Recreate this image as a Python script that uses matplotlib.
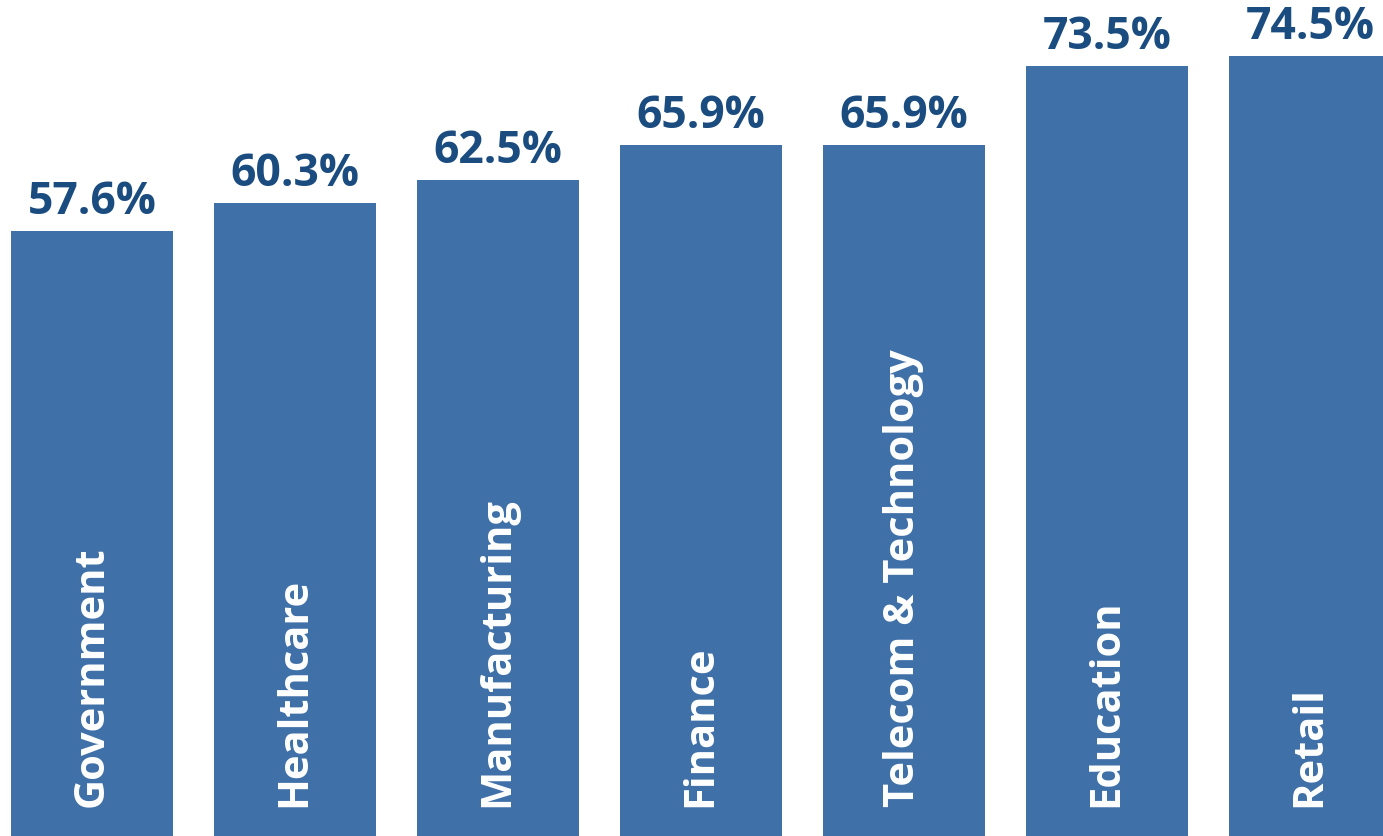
import numpy as np
import matplotlib.pyplot as plt

# Sector data
sectors = ["Government", "Healthcare", "Manufacturing", "Finance",
           "Telecom & Technology", "Education", "Retail"]
values = [57.6, 60.3, 62.5, 65.9, 65.9, 73.5, 74.5]
labels = ["57.6%", "60.3%", "62.5%", "65.9%", "65.9%", "73.5%", "74.5%"]

bar_color = "#4070a8"
text_color = "#1a4c80"

fig = plt.figure(figsize=(13.83, 8.36), dpi=100)
ax = fig.add_axes([0, 0, 1, 1])

x = np.arange(len(sectors))
base = -0.8
ax.bar(x, np.array(values) - base, bottom=base, width=0.8, color=bar_color)

for xi, v, lab, name in zip(x, values, labels, sectors):
    ax.text(xi, v + 0.6, lab, ha="center", va="bottom", fontsize=32,
            fontweight="bold", color=text_color, family="Open Sans")
    ax.text(xi, 2.0, name, ha="center", va="bottom", rotation=90, fontsize=30,
            fontweight="bold", color="white", family="Open Sans")

ax.set_xlim(-0.453, 6.36)
ax.set_ylim(-0.77, 79.9)
ax.axis("off")

fig.savefig("out.png", dpi=100)
